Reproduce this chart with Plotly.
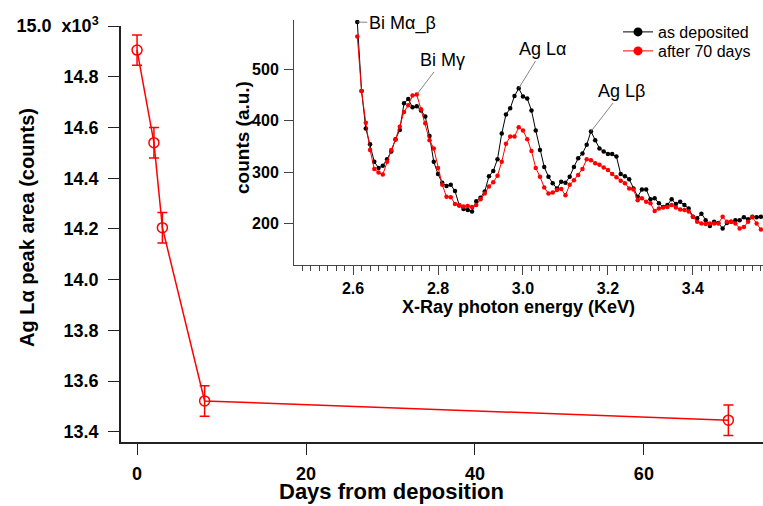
import plotly.graph_objects as go

# Main panel: Ag L-alpha peak area (in units of 10^3 counts) vs. days after deposition
days = [0, 2, 3, 8, 70]
area_k = [14.905, 14.540, 14.205, 13.522, 13.446]
area_err = [0.06, 0.06, 0.06, 0.06, 0.06]

y_tick_vals = [13.4, 13.6, 13.8, 14.0, 14.2, 14.4, 14.6, 14.8, 15.0]
y_tick_text = ["13.4", "13.6", "13.8", "14.0", "14.2", "14.4", "14.6", "14.8",
               "15.0\u00a0 x10<sup>3</sup>"]
x_tick_vals = [0, 20, 40, 60]

# Inset: XRF spectra
energy = [2.61, 2.62, 2.63, 2.64, 2.65, 2.66, 2.67, 2.68, 2.69, 2.70,
          2.71, 2.72, 2.73, 2.74, 2.75, 2.76, 2.77, 2.78, 2.79, 2.80,
          2.81, 2.82, 2.83, 2.84, 2.85, 2.86, 2.87, 2.88, 2.89, 2.90,
          2.91, 2.92, 2.93, 2.94, 2.95, 2.96, 2.97, 2.98, 2.99, 3.00,
          3.01, 3.02, 3.03, 3.04, 3.05, 3.06, 3.07, 3.08, 3.09, 3.10,
          3.11, 3.12, 3.13, 3.14, 3.15, 3.16, 3.17, 3.18, 3.19, 3.20,
          3.21, 3.22, 3.23, 3.24, 3.25, 3.26, 3.27, 3.28, 3.29, 3.30,
          3.31, 3.32, 3.33, 3.34, 3.35, 3.36, 3.37, 3.38, 3.39, 3.40,
          3.41, 3.42, 3.43, 3.44, 3.45, 3.46, 3.47, 3.48, 3.49, 3.50,
          3.51, 3.52, 3.53, 3.54, 3.55, 3.56]

counts_deposited = [592, 458, 385, 354, 320, 308, 312, 325, 340, 364,
                    382, 434, 442, 426, 428, 420, 408, 370, 320, 296,
                    279, 273, 275, 263, 235, 228, 226, 223, 243, 250,
                    262, 292, 302, 325, 375, 412, 424, 448, 463, 447,
                    443, 420, 381, 343, 310, 291, 278, 268, 281, 279,
                    291, 310, 327, 336, 353, 379, 362, 346, 340, 335,
                    335, 330, 296, 292, 286, 268, 252, 266, 266, 247,
                    249, 239, 232, 236, 247, 238, 242, 236, 229, 213,
                    210, 219, 206, 195, 203, 201, 190, 201, 203, 206,
                    206, 212, 208, 213, 212, 213]

counts_70days = [564, 458, 396, 343, 306, 299, 295, 320, 343, 363,
                 388, 417, 430, 449, 451, 422, 395, 362, 346, 308,
                 275, 252, 251, 238, 236, 233, 234, 232, 236, 247,
                 258, 272, 280, 293, 320, 355, 369, 369, 387, 381,
                 364, 341, 308, 291, 270, 258, 260, 265, 267, 255,
                 275, 284, 294, 306, 325, 323, 317, 314, 309, 304,
                 296, 290, 283, 278, 268, 266, 245, 249, 242, 239,
                 224, 229, 231, 232, 236, 231, 227, 226, 223, 213,
                 203, 200, 199, 200, 200, 200, 213, 203, 203, 200,
                 190, 193, 203, 212, 200, 188]

series_names = ["as deposited", "after 70 days"]
series_colors = ["#000000", "#ff0000"]

# Peak labels: (text, energy, counts of the labelled point, text offset in px)
peak_labels = [
    ("Bi M\u03b1_\u03b2", 2.61, 592, 45, 1),
    ("Bi M\u03b3", 2.75, 451, 26, -34),
    ("Ag L\u03b1", 2.99, 463, 24, -39),
    ("Ag L\u03b2", 3.16, 379, 31, -40),
]

W, H = 763, 506
FONT = "Liberation Sans, Arial, sans-serif"


def px_x(p):
    return p / W


def px_y(p):
    return 1 - p / H


fig = go.Figure()

fig.add_trace(go.Scatter(
    x=days, y=area_k, mode="lines+markers",
    line=dict(color="#ff0000", width=1.5),
    marker=dict(symbol="circle-open", size=10, color="#ff0000",
                line=dict(width=1.5, color="#ff0000")),
    error_y=dict(type="data", array=area_err, visible=True,
                 color="#ff0000", thickness=1.5, width=5),
    xaxis="x", yaxis="y", showlegend=False,
))

spectra = [counts_deposited, counts_70days]
for vals, color in zip(spectra, series_colors):
    fig.add_trace(go.Scatter(
        x=energy, y=vals, mode="lines+markers",
        line=dict(color=color, width=1),
        marker=dict(size=4.5, color=color),
        xaxis="x2", yaxis="y2", showlegend=False,
    ))

# legend entries (one legend box per row, larger dots)
legend_ids = ["legend", "legend2"]
for name, color, lg in zip(series_names, series_colors, legend_ids):
    fig.add_trace(go.Scatter(
        x=[None], y=[None], mode="lines+markers", name=name,
        line=dict(color=color, width=1),
        marker=dict(size=9, color=color),
        xaxis="x2", yaxis="y2", showlegend=True, legend=lg,
    ))

annotations = []
for text, e, c, ax, ay in peak_labels:
    annotations.append(dict(
        x=e, y=c, xref="x2", yref="y2", text=text,
        showarrow=True, arrowhead=0, arrowwidth=0.8, arrowcolor="#666666",
        ax=ax, ay=ay, standoff=0,
        font=dict(family=FONT, size=18, color="#000000"),
    ))

title_style = dict(xref="paper", yref="paper", showarrow=False,
                   xanchor="center", yanchor="middle")
annotations += [
    dict(text="Ag L\u03b1 peak area (counts)", x=px_x(27), y=px_y(228),
         textangle=-90,
         font=dict(family=FONT, size=20, color="#000000", weight="bold"),
         **title_style),
    dict(text="Days from deposition", x=px_x(391), y=px_y(491),
         font=dict(family=FONT, size=22, color="#000000", weight="bold"),
         **title_style),
    dict(text="counts (a.u.)", x=px_x(242), y=px_y(138), textangle=-90,
         font=dict(family=FONT, size=19, color="#000000", weight="bold"),
         **title_style),
    dict(text="X-Ray photon energy (KeV)", x=px_x(518), y=px_y(307),
         font=dict(family=FONT, size=18, color="#000000", weight="bold"),
         **title_style),
]

legend_style = dict(
    xanchor="left", yanchor="middle",
    bgcolor="rgba(0,0,0,0)", font=dict(family=FONT, size=16),
    itemwidth=30, tracegroupgap=0,
)

fig.update_layout(
    width=W, height=H,
    margin=dict(l=0, r=0, t=0, b=0, autoexpand=False),
    paper_bgcolor="white", plot_bgcolor="rgba(0,0,0,0)",
    font=dict(family=FONT, color="#000000"),
    xaxis=dict(
        domain=[px_x(121), 1.0], range=[-1.9, 74.1],
        tickvals=x_tick_vals, ticks="outside", ticklen=11, tickwidth=1.3,
        tickcolor="#222222", showline=True, linecolor="#222222", linewidth=1.5,
        showgrid=False, zeroline=False, ticklabelstandoff=4, automargin=False,
        tickfont=dict(family=FONT, size=18, weight="bold"),
        anchor="y",
    ),
    yaxis=dict(
        domain=[px_y(442), px_y(26)], range=[13.36, 15.0],
        tickvals=y_tick_vals, ticktext=y_tick_text,
        ticks="outside", ticklen=11, tickwidth=1.3, tickcolor="#222222",
        showline=True, linecolor="#222222", linewidth=1.5,
        showgrid=False, zeroline=False, ticklabelstandoff=6, automargin=False,
        tickfont=dict(family=FONT, size=18, weight="bold"),
        anchor="x",
    ),
    xaxis2=dict(
        domain=[px_x(294), 1.0], range=[2.461, 3.565],
        tick0=2.6, dtick=0.2, tickformat=".1f",
        ticks="outside", ticklen=9, tickwidth=1, tickcolor="#444444",
        minor=dict(dtick=0.02, ticks="outside", ticklen=5,
                   tickcolor="#444444", tickwidth=1),
        showline=True, linecolor="#444444", linewidth=1,
        showgrid=False, zeroline=False, automargin=False,
        tickfont=dict(family=FONT, size=16, weight="bold"),
        anchor="y2",
    ),
    yaxis2=dict(
        domain=[px_y(265), px_y(20)], range=[119, 596],
        tickvals=[200, 300, 400, 500],
        ticks="outside", ticklen=9, tickwidth=1, tickcolor="#444444",
        showline=True, linecolor="#444444", linewidth=1,
        showgrid=False, zeroline=False, ticklabelstandoff=2, automargin=False,
        tickfont=dict(family=FONT, size=16, weight="bold"),
        anchor="x2",
    ),
    legend=dict(x=px_x(618), y=px_y(32), **legend_style),
    legend2=dict(x=px_x(618), y=px_y(51), **legend_style),
    annotations=annotations,
)

fig.write_html("out.html")
